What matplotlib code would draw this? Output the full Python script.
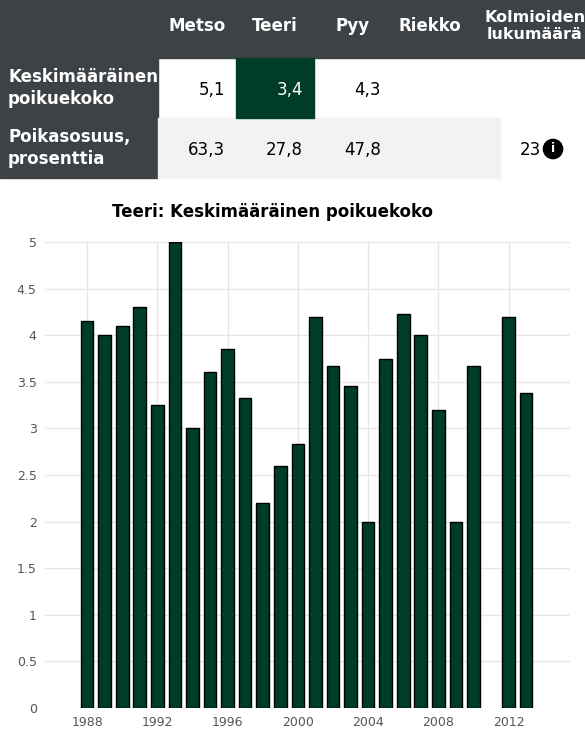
import matplotlib
matplotlib.use("Agg")
import matplotlib.pyplot as plt
import matplotlib.patches as mp

years = [1988,1989,1990,1991,1992,1993,1994,1995,1996,1997,1998,1999,2000,2001,2002,2003,2004,2005,2006,2007,2008,2009,2010,2012,2013]
values = [4.15,4.0,4.1,4.3,3.25,5.0,3.0,3.6,3.85,3.33,2.2,2.6,2.83,4.2,3.67,3.45,2.0,3.75,4.23,4.0,3.2,2.0,3.67,4.2,3.38]
species = ["Metso","Teeri","Pyy","Riekko"]
brood = ["5,1","3,4","4,3",""]
share = ["63,3","27,8","47,8",""]
triangles = "23"

W, H = 585, 736
fig = plt.figure(figsize=(W/100, H/100), dpi=100)
DARK = "#3d4246"
GREEN = "#003d26"

def rect(x0, y0, x1, y1, c):
    fig.patches.append(mp.Rectangle((x0/W, 1-y1/H), (x1-x0)/W, (y1-y0)/H, color=c, transform=fig.transFigure, zorder=0))
def txt(x, y, s, **kw):
    fig.text(x/W, 1-y/H, s, **kw)

rect(0, 0, 585, 58, DARK)
rect(0, 58, 158, 178, DARK)
rect(158, 118, 500, 178, "#f2f2f2")
rect(236, 58, 314, 118, GREEN)
cx = [197, 275, 353, 430]
for x, s in zip(cx, species):
    txt(x, 26, s, color="white", fontsize=12, fontweight="bold", ha="center", va="center")
txt(535, 26, "Kolmioiden\nlukumäärä", color="white", fontsize=11.5, fontweight="bold", ha="center", va="center", linespacing=1.2)
txt(8, 88, "Keskimääräinen\npoikuekoko", color="white", fontsize=12, fontweight="bold", ha="left", va="center", linespacing=1.3)
txt(8, 148, "Poikasosuus,\nprosenttia", color="white", fontsize=12, fontweight="bold", ha="left", va="center", linespacing=1.3)
for i, (x, a, b) in enumerate(zip(cx, brood, share)):
    txt(x+28, 90, a, color="white" if i == 1 else "black", fontsize=12, ha="right", va="center")
    txt(x+28, 150, b, color="black", fontsize=12, ha="right", va="center")
txt(541, 150, triangles, color="black", fontsize=12, ha="right", va="center")
txt(553, 149, "i", color="white", fontsize=9, fontweight="bold", ha="center", va="center",
    bbox=dict(boxstyle="circle,pad=0.25", fc="black", ec="black"))

txt(273, 212, "Teeri: Keskimääräinen poikuekoko", fontsize=12, fontweight="bold", ha="center", va="center")

ax = fig.add_axes([45/W, 1-708/H, (570-45)/W, (708-242)/H])
ax.bar(years, values, width=0.72, color=GREEN, edgecolor="black", linewidth=1, zorder=3)
ax.set_xlim(1985.6, 2015.5)
ax.set_ylim(0, 5)
ax.set_yticks([0,0.5,1,1.5,2,2.5,3,3.5,4,4.5,5])
ax.set_yticklabels(["0","0.5","1","1.5","2","2.5","3","3.5","4","4.5","5"])
ax.set_xticks(range(1988, 2013, 4))
ax.grid(True, color="#e6e6e6", linewidth=1, zorder=0)
for s in ax.spines.values():
    s.set_visible(False)
ax.tick_params(length=0, labelsize=9, colors="#555555", pad=6)
fig.savefig("out.png", dpi=100)
